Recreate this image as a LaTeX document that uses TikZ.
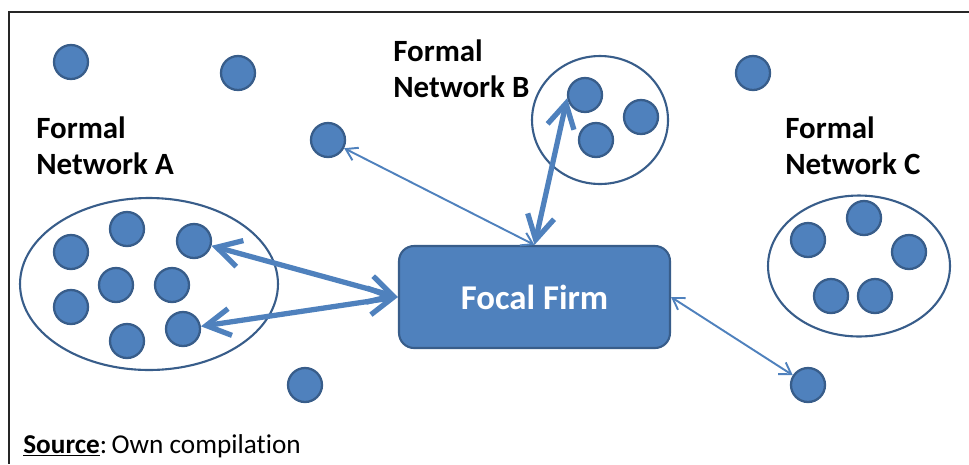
\documentclass[tikz,border=0pt]{standalone}
\usepackage{fontspec}
\setmainfont{Carlito}[Ligatures=NoCommon]
\usetikzlibrary{arrows.meta,shapes.geometric}
\definecolor{firmblue}{RGB}{79,129,189}
\definecolor{firmedge}{RGB}{56,93,138}
\tikzset{
	actor/.style={circle, fill=firmblue, draw=firmedge, line width=1.3pt, minimum size=0.68cm, inner sep=0},
	network/.style={ellipse, draw=firmedge, line width=1.2pt, inner sep=0},
	netlabel/.style={align=left, anchor=north west, inner sep=0, font=\fontsize{17.6}{20.5}\selectfont\bfseries},
	firm/.style={rectangle, rounded corners=0.3cm, fill=firmblue, draw=firmedge, line width=1.2pt, minimum width=5.42cm, minimum height=2.04cm, text=white, font=\fontsize{19.8}{24}\selectfont\bfseries},
	tie/.style={firmblue, line width=3pt, {Straight Barb[length=4.8mm,width=5.4mm]}-{Straight Barb[length=4.8mm,width=5.4mm]}},
	weaktie/.style={firmblue, line width=1.1pt, {Straight Barb[length=2.2mm,width=2.8mm]}-{Straight Barb[length=2.2mm,width=2.8mm]}}
}
\begin{document}
\begin{tikzpicture}[x=0.02cm, y=-0.02cm]
	\useasboundingbox (0,0) rectangle (969,464);
	\draw[line width=1.7pt, black!85] (969,12) -- (9,12) -- (9,464);

	\node[network, minimum width=5.16cm, minimum height=3.44cm] (netA) at (149,284) {};
	\node[network, minimum width=2.72cm, minimum height=2.56cm] (netB) at (600,120) {};
	\node[network, minimum width=3.64cm, minimum height=2.82cm] (netC) at (859,266) {};

	\foreach \x/\y [count=\i] in {71/252, 127/229, 194/241, 116/285, 172/285, 71/307, 127/341, 183/329}{\node[actor] (a\i) at (\x,\y) {};}
	\foreach \x/\y [count=\i] in {585/95, 641/117, 596/140}{\node[actor] (b\i) at (\x,\y) {};}
	\foreach \x/\y [count=\i] in {808/240, 864/218, 909/252, 831/296, 875/296}{\node[actor] (c\i) at (\x,\y) {};}
	\foreach \x/\y [count=\i] in {71/62, 238/73, 328/140, 753/73, 305/385, 808/385}{\node[actor] (f\i) at (\x,\y) {};}

	\node[firm] (firm) at (534.5,297) {Focal Firm};

	\node[netlabel] (labA) at (36,116) {Formal\\Network A};
	\node[netlabel] (labB) at (393,39) {Formal\\Network B};
	\node[netlabel] (labC) at (785,116) {Formal\\Network C};

	\draw[tie] (a3) -- (firm.west);
	\draw[tie] (a8) -- (firm.west);
	\draw[tie] (b1.190) -- (firm.north);
	\draw[weaktie] (f3) -- (firm.north);
	\draw[weaktie] (firm.east) -- (f6);

	\node[anchor=base west, inner sep=0, font=\fontsize{15.5}{18}\selectfont] (src) at (23,453) {\underline{\textbf{Source}}:\,Own compilation};
\end{tikzpicture}
\end{document}
